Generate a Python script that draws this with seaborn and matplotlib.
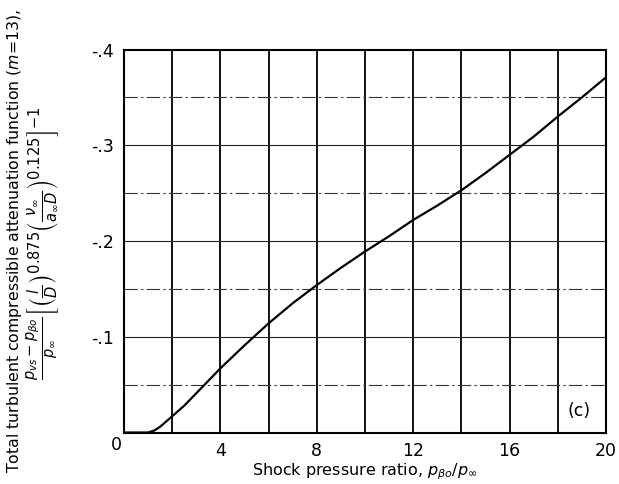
import matplotlib
matplotlib.use("Agg")
import matplotlib.pyplot as plt
import seaborn as sns
import pandas as pd

# Data (y values are plotted as negatives, axis inverted)
shock_ratio = [0, 1.0, 1.25, 1.5, 2, 2.5, 3, 4, 5, 6, 7, 8, 9, 10, 11, 12, 13, 14, 15, 16, 17, 18, 19, 20]
attenuation = [0, 0, -0.002, -0.006, -0.017, -0.028, -0.041, -0.067, -0.091, -0.114, -0.135, -0.154,
               -0.172, -0.189, -0.205, -0.222, -0.237, -0.253, -0.271, -0.290, -0.309, -0.330, -0.350, -0.371]
x_ticks = [4, 8, 12, 16, 20]
x_tick_labels = ["4", "8", "12", "16", "20"]
y_ticks = [-0.1, -0.2, -0.3, -0.4]
y_tick_labels = ["-.1", "-.2", "-.3", "-.4"]
x_grid = [2, 4, 6, 8, 10, 12, 14, 16, 18]
y_grid_major = [-0.1, -0.2, -0.3]
y_grid_minor = [-0.05, -0.15, -0.25, -0.35]

df = pd.DataFrame({"x": shock_ratio, "y": attenuation})

sns.set_style("white")
plt.rcParams["font.family"] = ["DejaVu Sans"]
plt.rcParams["mathtext.fontset"] = "dejavusans"
plt.rcParams["text.color"] = "black"
plt.rcParams["axes.labelcolor"] = "black"
plt.rcParams["xtick.color"] = "black"
plt.rcParams["ytick.color"] = "black"

fig = plt.figure(figsize=(6.19, 4.84), dpi=100)
ax = fig.add_axes([0.2003, 0.1064, 0.7787, 0.7913])

for gx in x_grid:
    ax.axvline(gx, color="black", lw=1.3, zorder=1)
for gy in y_grid_major:
    ax.axhline(gy, color="#222222", lw=0.8, zorder=1)
for gy in y_grid_minor:
    ax.axhline(gy, color="#333333", lw=0.8, ls=(0, (12, 3, 2, 3)), zorder=1)

sns.lineplot(data=df, x="x", y="y", ax=ax, color="black", lw=1.6, zorder=3)

ax.set_xlim(0, 20)
ax.set_ylim(0, -0.4)
ax.set_xticks(x_ticks)
ax.set_xticklabels(x_tick_labels, fontsize=12.5)
ax.set_yticks(y_ticks)
ax.set_yticklabels(y_tick_labels, fontsize=12.5)
ax.tick_params(length=0, pad=7)
for s in ax.spines.values():
    s.set_color("black")
    s.set_linewidth(1.5)

ax.text(-0.3, 0.004, "0", fontsize=12.5, ha="center", va="top")
ax.text(18.9, -0.022, "(c)", fontsize=12.5, ha="center", va="center")

ax.set_xlabel(r"Shock pressure ratio, $p_{\beta o}/p_{\infty}$", fontsize=11.5, labelpad=1)
ax.set_ylabel("")

fig.text(0.024, 0.502, r"Total turbulent compressible attenuation function ($m$=13),",
         rotation=90, ha="center", va="center", fontsize=11.3)
fig.text(0.069, 0.498,
         r"$\frac{p_{vs}-p_{\beta o}}{p_{\infty}}\left[\left(\frac{l}{D}\right)^{0.875}"
         r"\left(\frac{\nu_{\infty}}{a_{\infty}D}\right)^{0.125}\right]^{-1}$",
         rotation=90, ha="center", va="center", fontsize=15)

fig.savefig("out.png", dpi=100)
